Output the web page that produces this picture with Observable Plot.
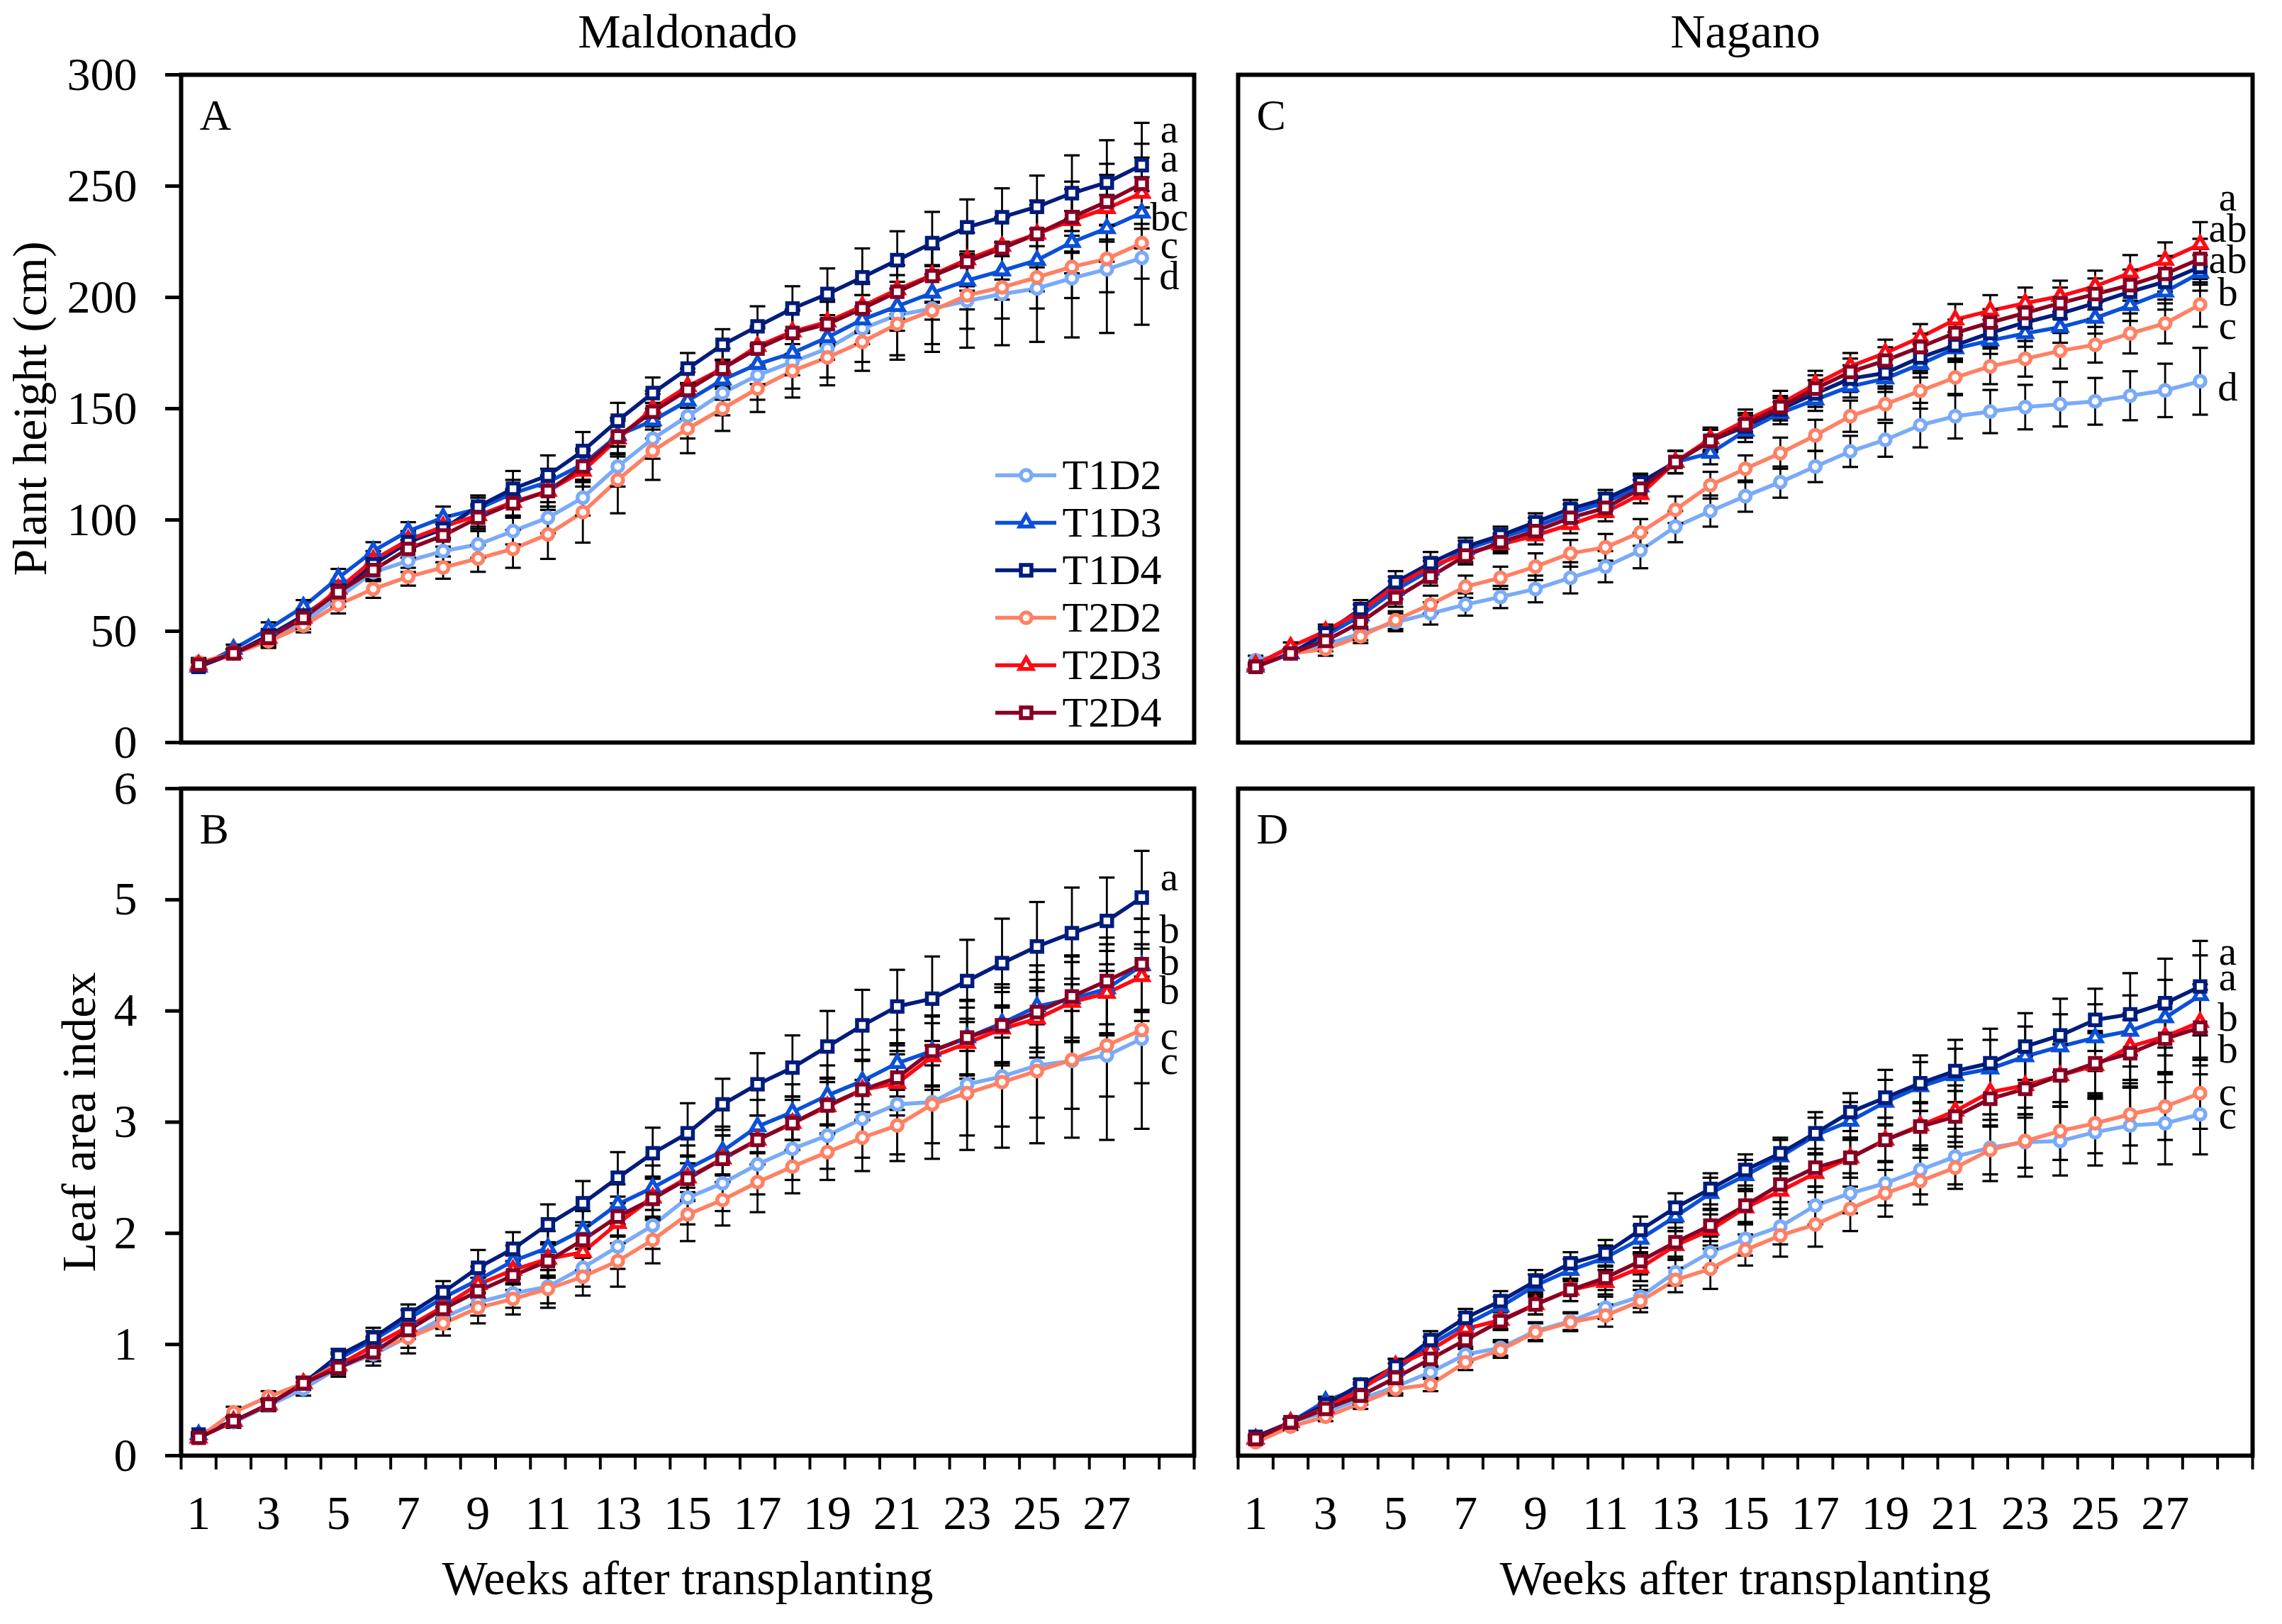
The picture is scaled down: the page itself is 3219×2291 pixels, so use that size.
<!DOCTYPE html>
<html><head><meta charset="utf-8">
<script src="https://cdn.jsdelivr.net/npm/d3@7"></script>
<script src="https://cdn.jsdelivr.net/npm/@observablehq/plot@0.6"></script>
<style>
html,body{margin:0;padding:0;background:#fff;}
#chart{position:relative;width:3219px;height:2291px;background:#fff;font-family:"Liberation Serif","Times New Roman",serif;}
#chart svg{position:absolute;overflow:visible;}
</style></head><body><div id="chart"></div>
<script>
// ---------- data ----------
const series = ["T1D2", "T1D3", "T1D4", "T2D2", "T2D3", "T2D4"];
const seriesColors = ["#7aaaf8", "#0a50d8", "#001c7c", "#ff8064", "#ff0a14", "#870024"];
const seriesShapes = ["circle", "triangle", "square", "circle", "triangle", "square"];
const weeks = [1,2,3,4,5,6,7,8,9,10,11,12,13,14,15,16,17,18,19,20,21,22,23,24,25,26,27,28];
const xCategories = [1,2,3,4,5,6,7,8,9,10,11,12,13,14,15,16,17,18,19,20,21,22,23,24,25,26,27,28,29];
const xTickLabels = [1,3,5,7,9,11,13,15,17,19,21,23,25,27];
const heightTicks = [0,50,100,150,200,250,300];
const laiTicks = [0,1,2,3,4,5,6];
const columnTitles = ["Maldonado", "Nagano"];
const panelLabels = ["A", "B", "C", "D"];
const yTitleHeight = "Plant height (cm)";
const yTitleLai = "Leaf area index";
const xTitle = "Weeks after transplanting";

// Plant height, Maldonado (panel A) - rows in series order
const maldonadoHeight = [
  [35,40,46,54,65,76.5,81.6,86,89,95,101,110,124,136.5,146.6,157,165,171,177,186,192,195,198.4,201.5,204,208.6,212.6,217.7],
  [34,42,51,61,74,86,95,101,105,112,117,125,138,144.6,153.5,163,170,175,182,190,196,202,207.6,212,216.7,224.8,231,238],
  [34,40,48,57,68,80,90,96,106,114,120,131,144.6,157,168,178.7,187,195,201.5,209,216.7,224.4,231.5,236,240.7,246.8,251.6,259.4],
  [36,40,45.5,52.5,62,69,74.5,78.6,82.7,87,93.5,103.5,118,131,141,150,159,167,173,180,188,194,200.9,204.5,209,213.7,217.3,224.4],
  [35,40,47,56,69,82,91,97,102,108,113,122,136.5,150,160,168,178,184.6,189,196,203.5,210,217,223,228.5,234.6,240,246.8],
  [35,40,47,56,67.5,77.5,87,93,101,107.5,113,124,137.5,148.6,158.4,168,177,184,188,195,202.5,209.6,216,222,228.5,236,243,251]
];
const maldonadoHeightErr = [
  [2,2,3,3,4,4,5,5,6,6,7,8,9,9,10,10,11,12,13,15,18,19.5,21,23,24,26.6,28.6,30],
  [2,2,3,3,4,4,4,5,5,6,6,7,8,8,8,9,9,10,10,11,11,12,13,13,14,14,15,16],
  [2,2,3,3,3,3,4,4,5,8,9,8.5,8,7,7,7,9,10,11.5,13,13,14,12.5,13,14,17,19,19],
  [2,2,3,3,4,4,4,5,6,8.5,11,13.7,15,13,11,10,10.5,12,12.5,13,16,15,15,14,14,14,15,16],
  [2,2,3,3,4,4,4,5,5,6,7,7,8,8,8,9,9,10,10,11,11,12,12,13,13,14,15,16],
  [2,2,3,3,4,4,4,5,5,6,7,7,8,8,8,9,9,10,10,11,12,12,13,14,15,16,17,18]
];
// Plant height, Nagano (panel C)
const naganoHeight = [
  [37,40,44,49,54,58,62,65.4,69,74,79,86.3,97,104,110.7,117,124,130.8,136,142.6,146.6,148.7,150.7,152,153.3,155.8,158.2,162.3],
  [34,40,48,57,68.5,77.6,86.7,92,97,103,108,115,126,130,140,148,154,160,163.5,170,177,180.6,183.8,186.6,190.7,196.4,202.5,211],
  [34,40,49,60,72,80.6,88,93,99,105,109.5,116.8,126,135.5,142,149.7,156.8,163.5,166,173,178.5,184,188.7,192.7,197.4,202.5,207,213.7],
  [34,40,42,47.7,55,62,70,74,79,85,87.7,94.4,104.6,115.6,123,130,138,146.6,152,158,164,169,172.4,176,178.7,183.8,188.3,196.8],
  [35,43,50,59,70.5,79,85,89,93,98,103.4,111.5,126,136.5,144.6,152,161,169,175,182,190,194,197.4,200.5,205,211,216.7,223.8],
  [34,40,45.7,54,65,74.5,84,90,95,101,105.4,114,126,135.5,143,150.7,159,166.5,171.6,177.7,184,188.7,193,197.4,201.5,205.5,210.6,217.3]
];
const naganoHeightErr = [
  [2,2,3,3,4,5,5,5,6,7,7,8,7,7,7,7,7,7,7.6,10,10,9.7,10,10,10.5,11,12,15],
  [1,2,3,3,4,4,4,4,4,4,4,5,5,5,5,5,5,5,6,6,6,6,6,7,7,7,8,8],
  [1,2,3,4,5,5,4,4,4,4,4,4,5,5,5,5,6,6,6,6,6,6,6,7,7,7,8,8],
  [1,2,3,3,4,4,5,5,6,6,6,6,6,6,6,7,7,7,7,8,8,8,8,8,8,9,9,10],
  [1,2,3,3,4,4,4,4,4,4,4,4,5,5,5,6,6,6,6,6,7,7,7,7,7,8,8,10],
  [1,2,3,3,4,4,4,4,4,4,4,4,5,5,5,5,6,6,6,6,6,6,7,7,7,7,8,9]
];
// Leaf area index, Maldonado (panel B)
const maldonadoLai = [
  [.17,.30,.45,.60,.79,.91,1.07,1.24,1.38,1.46,1.52,1.69,1.88,2.07,2.32,2.45,2.62,2.76,2.88,3.03,3.16,3.18,3.34,3.41,3.51,3.55,3.60,3.75],
  [.19,.31,.46,.65,.87,1.04,1.23,1.42,1.58,1.75,1.87,2.03,2.26,2.41,2.58,2.74,2.96,3.09,3.24,3.37,3.53,3.64,3.76,3.89,4.04,4.11,4.20,4.41],
  [.19,.31,.46,.65,.90,1.06,1.27,1.47,1.69,1.86,2.08,2.27,2.50,2.72,2.90,3.16,3.34,3.49,3.68,3.87,4.04,4.11,4.27,4.43,4.58,4.70,4.81,5.02],
  [.16,.39,.53,.65,.83,.95,1.06,1.19,1.33,1.41,1.50,1.61,1.75,1.94,2.17,2.30,2.46,2.60,2.73,2.86,2.97,3.16,3.26,3.36,3.46,3.56,3.69,3.83],
  [.16,.31,.46,.65,.81,.99,1.16,1.34,1.54,1.67,1.77,1.83,2.09,2.32,2.50,2.67,2.84,2.99,3.14,3.29,3.35,3.59,3.71,3.84,3.93,4.08,4.16,4.31],
  [.16,.31,.46,.65,.79,.93,1.13,1.32,1.48,1.62,1.75,1.94,2.15,2.31,2.49,2.67,2.84,2.99,3.15,3.29,3.40,3.64,3.76,3.87,3.99,4.13,4.27,4.42]
];
const maldonadoLaiErr = [
  [.03,.05,.05,.06,.08,.1,.1,.1,.12,.13,.15,.17,.2,.21,.24,.25,.27,.28,.3,.35,.45,.51,.59,.64,.7,.69,.76,.81],
  [.02,.04,.05,.05,.06,.08,.08,.1,.12,.14,.15,.17,.18,.2,.21,.22,.24,.25,.27,.28,.3,.32,.34,.35,.37,.38,.4,.42],
  [.02,.04,.05,.05,.06,.09,.09,.1,.16,.15,.18,.2,.23,.23,.27,.23,.28,.29,.32,.32,.33,.38,.37,.4,.4,.41,.39,.42],
  [.03,.05,.05,.06,.08,.1,.14,.11,.14,.14,.17,.17,.23,.21,.24,.23,.27,.24,.25,.3,.32,.35,.38,.4,.42,.44,.46,.48],
  [.02,.04,.05,.05,.06,.08,.08,.1,.12,.13,.15,.16,.18,.19,.2,.21,.22,.24,.25,.27,.29,.3,.32,.33,.35,.36,.38,.4],
  [.02,.04,.05,.05,.06,.08,.08,.1,.12,.13,.15,.16,.18,.19,.2,.21,.22,.24,.25,.27,.29,.31,.33,.34,.36,.37,.39,.41]
];
// Leaf area index, Nagano (panel D)
const naganoLai = [
  [.15,.30,.39,.51,.62,.75,.91,.97,1.12,1.21,1.33,1.43,1.65,1.83,1.95,2.06,2.25,2.36,2.45,2.57,2.69,2.77,2.82,2.83,2.91,2.97,2.99,3.07],
  [.15,.30,.49,.61,.77,1.00,1.18,1.34,1.53,1.67,1.78,1.95,2.15,2.36,2.52,2.69,2.88,3.01,3.18,3.32,3.42,3.48,3.59,3.68,3.76,3.82,3.94,4.14],
  [.17,.30,.46,.64,.80,1.04,1.24,1.39,1.57,1.73,1.82,2.03,2.23,2.40,2.57,2.72,2.90,3.09,3.22,3.35,3.46,3.53,3.68,3.78,3.92,3.97,4.07,4.22],
  [.12,.26,.35,.47,.60,.64,.84,.95,1.11,1.20,1.26,1.39,1.58,1.68,1.85,1.98,2.08,2.22,2.36,2.47,2.59,2.75,2.83,2.92,2.99,3.07,3.14,3.26],
  [.15,.30,.43,.59,.81,.95,1.14,1.22,1.36,1.49,1.56,1.69,1.89,2.03,2.23,2.38,2.54,2.68,2.84,2.97,3.10,3.27,3.33,3.42,3.51,3.68,3.77,3.90],
  [.15,.30,.42,.54,.70,.87,1.04,1.21,1.36,1.49,1.60,1.75,1.92,2.07,2.25,2.44,2.59,2.68,2.84,2.96,3.05,3.21,3.30,3.42,3.53,3.62,3.75,3.85]
];
const naganoLaiErr = [
  [.02,.03,.04,.05,.06,.06,.07,.07,.08,.08,.1,.1,.12,.14,.15,.16,.17,.18,.2,.22,.25,.3,.31,.31,.3,.34,.37,.36],
  [.02,.03,.04,.05,.06,.07,.08,.09,.1,.1,.11,.12,.13,.14,.14,.15,.16,.17,.2,.22,.24,.26,.27,.29,.3,.32,.34,.36],
  [.02,.03,.05,.05,.07,.08,.08,.09,.1,.1,.12,.12,.13,.14,.14,.14,.19,.17,.25,.25,.28,.31,.3,.33,.28,.37,.4,.41],
  [.02,.03,.04,.05,.06,.06,.07,.07,.08,.08,.1,.1,.11,.18,.14,.19,.2,.2,.21,.21,.19,.22,.24,.26,.27,.28,.3,.32],
  [.02,.03,.04,.05,.06,.07,.08,.08,.09,.1,.11,.12,.13,.14,.15,.16,.17,.18,.2,.21,.23,.25,.26,.28,.29,.3,.32,.34],
  [.02,.03,.04,.05,.06,.07,.08,.08,.09,.1,.11,.12,.13,.14,.15,.16,.17,.18,.2,.21,.23,.25,.26,.28,.29,.3,.32,.34]
];
// significance letters at week 28 and the value at which each sits
const lettersA = ["a","a","a","bc","c","d"];
const lettersAY = [275.4,262.2,249,235.8,223.6,209.4];
const lettersC = ["a","ab","ab","b","c","d"];
const lettersCY = [244.9,230.7,216.9,202.3,187.1,159.6];
const lettersB = ["a","b","b","b","c","c"];
const lettersBY = [5.20,4.73,4.44,4.18,3.77,3.55];
const lettersD = ["a","a","b","b","c","c"];
const lettersDY = [4.53,4.30,3.94,3.65,3.27,3.06];

// ---------- build ----------
const FONT = '"Liberation Serif","Times New Roman",serif';
function table(values, errors) {
  return series.flatMap((s, i) => weeks.map((w, j) => ({series: s, week: w, value: values[i][j], err: errors[i][j]})));
}
const capSymbol = {draw(ctx, size) { const h = Math.sqrt(size / Math.PI); ctx.moveTo(-h, 0); ctx.lineTo(h, 0); }};
const shapeOf = Object.fromEntries(series.map((s, i) => [s, seriesShapes[i]]));
const shapeR = {circle: 7.6, triangle: 6.8, square: 8.4};
const xDomain = [xCategories[0] - 0.5, xCategories[xCategories.length - 1] + 0.5];
const xBoundaries = [xCategories[0] - 0.5, ...xCategories.map(c => c + 0.5)];

function dotMarks(data, opts) {
  return ["circle", "triangle", "square"].map(sh => Plot.dot(data.filter(d => shapeOf[d.series ?? d] === sh), {
    ...opts, symbol: sh, r: shapeR[sh], fill: "white", strokeWidth: 5.5
  }));
}

function panel(cfg) {
  const data = table(cfg.values, cfg.errors);
  const marks = [
    Plot.line(data, {x: "week", y: "value", z: "series", stroke: "series", strokeWidth: 5.5}),
    Plot.ruleX(data, {x: "week", y1: d => d.value - d.err, y2: d => d.value + d.err, stroke: "black", strokeWidth: 2.8}),
    Plot.dot(data, {x: "week", y: d => d.value + d.err, symbol: capSymbol, r: 11, stroke: "black", strokeWidth: 3.2}),
    Plot.dot(data, {x: "week", y: d => d.value - d.err, symbol: capSymbol, r: 11, stroke: "black", strokeWidth: 3.2}),
    ...dotMarks(data, {x: "week", y: "value", stroke: "series"}),
    Plot.text(cfg.letters, {y: (d, i) => cfg.lettersY[i], text: d => d, frameAnchor: "right", dx: -35, textAnchor: "middle", lineAnchor: "middle", fontSize: 57, fontFamily: FONT, fill: "black"}),
    Plot.text([cfg.label], {frameAnchor: "top-left", dx: 26, dy: 33, textAnchor: "start", lineAnchor: "top", fontSize: 62, fontFamily: FONT, fill: "black"}),
    Plot.frame({stroke: "black", strokeWidth: 6})
  ];
  if (cfg.yTicks) {
    marks.push(Plot.axisY(cfg.yTicks, {tickSize: 22, tickPadding: 40, strokeWidth: 5, fontSize: 66, fontFamily: FONT, tickFormat: d3.format("d"), label: null}));
    marks.push(Plot.text([cfg.yTitle], {frameAnchor: "left", rotate: -90, dx: cfg.yTitleDx, textAnchor: "middle", lineAnchor: "middle", fontSize: 68, fontFamily: FONT, fill: "black"}));
  }
  if (cfg.xAxis) {
    marks.push(Plot.axisX(xBoundaries, {tickSize: 20, strokeWidth: 4, tickFormat: () => "", label: null}));
    marks.push(Plot.axisX(xTickLabels, {tickSize: 0, tickPadding: 55, fontSize: 68, fontFamily: FONT, tickFormat: d3.format("d"), label: null}));
    marks.push(Plot.text([xTitle], {frameAnchor: "bottom", dy: 174, textAnchor: "middle", lineAnchor: "middle", fontSize: 68, fontFamily: FONT, fill: "black"}));
  }
  if (cfg.colTitle) {
    marks.push(Plot.text([cfg.colTitle], {frameAnchor: "top", dy: -60, textAnchor: "middle", lineAnchor: "middle", fontSize: 68, fontFamily: FONT, fill: "black"}));
  }
  const svg = Plot.plot({
    width: cfg.width, height: cfg.height,
    marginLeft: cfg.m[0], marginRight: cfg.m[1], marginTop: cfg.m[2], marginBottom: cfg.m[3],
    style: {fontFamily: FONT, fontSize: "66px", background: "transparent", overflow: "visible", color: "black"},
    x: {domain: xDomain, axis: null},
    y: {domain: cfg.yDomain, axis: null},
    color: {domain: series, range: seriesColors},
    marks
  });
  svg.style.left = cfg.left + "px";
  svg.style.top = cfg.top + "px";
  return svg;
}

const chart = document.getElementById("chart");
chart.appendChild(panel({values: maldonadoHeight, errors: maldonadoHeightErr, yDomain: [0, 300], yTicks: heightTicks, yTitle: yTitleHeight, yTitleDx: -212,
  letters: lettersA, lettersY: lettersAY, label: panelLabels[0], colTitle: columnTitles[0],
  left: 0, top: 0, width: 1715, height: 1080, m: [255, 31, 105, 33]}));
chart.appendChild(panel({values: naganoHeight, errors: naganoHeightErr, yDomain: [0, 300],
  letters: lettersC, lettersY: lettersCY, label: panelLabels[2], colTitle: columnTitles[1],
  left: 1715, top: 0, width: 1504, height: 1080, m: [31, 42, 105, 33]}));
chart.appendChild(panel({values: maldonadoLai, errors: maldonadoLaiErr, yDomain: [0, 6], yTicks: laiTicks, yTitle: yTitleLai, yTitleDx: -143,
  letters: lettersB, lettersY: lettersBY, label: panelLabels[1], xAxis: true,
  left: 0, top: 1080, width: 1715, height: 1211, m: [255, 31, 32, 238]}));
chart.appendChild(panel({values: naganoLai, errors: naganoLaiErr, yDomain: [0, 6],
  letters: lettersD, lettersY: lettersDY, label: panelLabels[3], xAxis: true,
  left: 1715, top: 1080, width: 1504, height: 1211, m: [31, 42, 32, 238]}));

// legend (inside panel A)
const legend = Plot.plot({
  width: 286, height: 406, marginLeft: 0, marginRight: 200, marginTop: 0, marginBottom: 0,
  style: {fontFamily: FONT, background: "transparent", overflow: "visible", color: "black"},
  x: {domain: [0, 1], axis: null},
  y: {type: "point", domain: series, padding: 0.5, axis: null},
  color: {domain: series, range: seriesColors},
  marks: [
    Plot.ruleY(series, {y: d => d, stroke: d => d, strokeWidth: 5.5}),
    ...dotMarks(series, {y: d => d, stroke: d => d, frameAnchor: "middle"}),
    Plot.text(series, {y: d => d, text: d => d, frameAnchor: "right", dx: 8, textAnchor: "start", lineAnchor: "middle", fontSize: 60, fontFamily: FONT, fill: "black"})
  ]
});
legend.style.left = "1404px";
legend.style.top = "634px";
chart.appendChild(legend);
</script></body></html>
